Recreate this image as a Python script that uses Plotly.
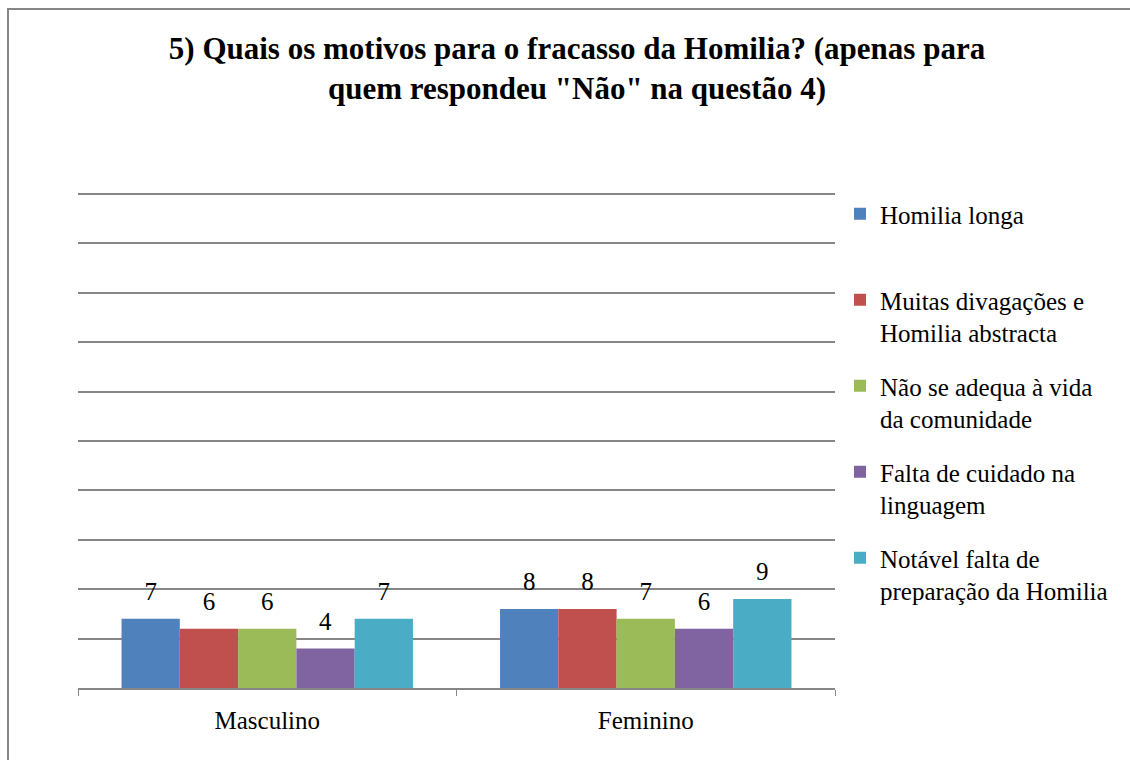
import plotly.graph_objects as go

# categories and series
categories = ["Masculino", "Feminino"]
series_names = [
    "Homilia longa<br> ",
    "Muitas divagações e<br>Homilia abstracta",
    "Não se adequa à vida<br>da comunidade",
    "Falta de cuidado na<br>linguagem",
    "Notável falta de<br>preparação da Homilia",
]
homilia_longa = [7, 8]
divagacoes = [6, 8]
nao_adequa = [6, 7]
falta_cuidado = [4, 6]
falta_preparacao = [7, 9]

values = [homilia_longa, divagacoes, nao_adequa, falta_cuidado, falta_preparacao]
colors = ["#4F81BD", "#C0504D", "#9BBB59", "#8064A2", "#4BACC6"]

FONT = "Liberation Serif"
W, H = 1130, 760
L, R, T, B = 78, 295, 191, 72
LABEL_PAD = 1.1  # gap between bar top and value label, in axis units

fig = go.Figure()
for i, (name, vals) in enumerate(zip(series_names, values)):
    fig.add_trace(go.Bar(
        x=categories, y=vals, name=name,
        marker=dict(color=colors[i], line=dict(width=0)),
        offsetgroup=str(i), legendgroup=str(i),
        hoverinfo="x+y",
    ))
    # transparent spacer sitting on the bar, carries the value label
    fig.add_trace(go.Bar(
        x=categories, y=[LABEL_PAD] * len(vals), base=vals,
        marker=dict(color="rgba(0,0,0,0)", line=dict(width=0)),
        text=vals, textposition="outside",
        textfont=dict(family=FONT, size=25, color="black"),
        cliponaxis=False, offsetgroup=str(i), legendgroup=str(i),
        showlegend=False, hoverinfo="skip",
    ))

fig.update_layout(
    width=W, height=H,
    margin=dict(l=L, r=R, t=T, b=B),
    paper_bgcolor="white", plot_bgcolor="white",
    barmode="group", bargap=0.23, bargroupgap=0,
    title=dict(
        text="<b>5) Quais os motivos para o fracasso da Homilia? (apenas para<br>quem respondeu \"Não\" na questão 4)</b>",
        x=577 / W, xref="container", xanchor="center",
        y=1 - 59 / H, yref="container", yanchor="top",
        font=dict(family=FONT, size=31, color="black"),
    ),
    font=dict(family=FONT, color="black"),
    legend=dict(
        x=(840 - L) / (W - L - R), xanchor="left", y=1.0, yanchor="top",
        font=dict(family=FONT, size=25, color="black"),
        valign="top", tracegroupgap=18, itemclick=False,
        bgcolor="rgba(0,0,0,0)",
    ),
    xaxis=dict(
        showline=True, linecolor="#868686", linewidth=1.5,
        ticks="outside", tickson="boundaries", ticklen=6, tickcolor="#868686",
        tickfont=dict(family=FONT, size=25, color="black"),
        ticklabelstandoff=9, showgrid=False,
    ),
    yaxis=dict(
        range=[0, 50.3], tick0=0, dtick=5, showticklabels=False,
        showgrid=True, gridcolor="#868686", gridwidth=1.5,
        zeroline=False, showline=False, ticks="",
    ),
)

# outer frame of the chart area (left and top edges visible, rest cropped)
pw = W - L - R
ph = H - T - B
fig.add_shape(
    type="rect", xref="paper", yref="paper",
    x0=(8 - L) / pw, x1=(W + 60 - L) / pw,
    y0=-(B + 60) / ph, y1=1 + (T - 9) / ph,
    line=dict(color="#868686", width=2), fillcolor="rgba(0,0,0,0)",
    layer="below",
)

fig.write_html(
    "out.html",
    config={"displayModeBar": False},
    post_script="document.body.style.margin='0';",
)
